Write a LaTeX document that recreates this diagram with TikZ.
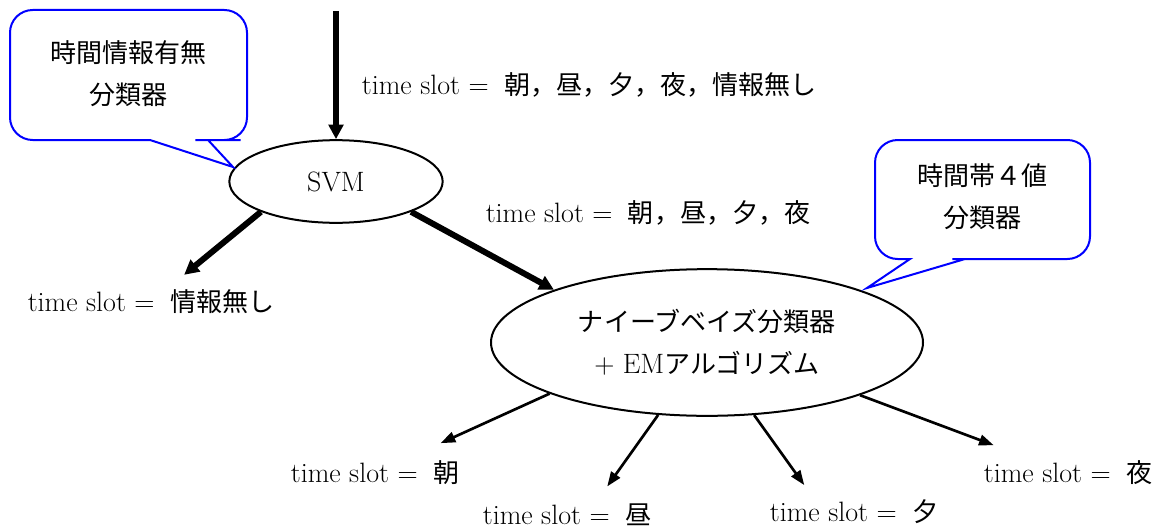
\documentclass[tikz,border=0pt]{standalone}
\usepackage{fontspec}
\newfontfamily\jp[Scale=0.93]{Noto Sans CJK JP}
\newcommand\tslot{time slot =\hspace{0.55em}}
\usetikzlibrary{arrows.meta,shapes.geometric}

\begin{document}
\begin{tikzpicture}[x=0.75pt,y=-0.75pt,
 every node/.style={font=\fontsize{21}{31.5}\selectfont},
 oval/.style={draw,ellipse,line width=1.5pt,align=center,inner sep=0pt},
 lbl/.style={inner sep=2pt},
 note/.style={align=center,font=\fontsize{21}{31.5}\selectfont\jp},
 bubble/.style={draw=blue,line width=1.5pt},
 fat/.style={-{Triangle[length=11pt,width=11pt]},line width=4.5pt},
 arr/.style={-{Triangle[length=11pt,width=8pt]},line width=2pt}]
\useasboundingbox (0,0) rectangle (1163,528);
% classifiers
\node[oval,minimum width=160pt,minimum height=62pt] (svm) at (336,181.5) {SVM};
\node[oval,minimum width=324pt,minimum height=110pt] (nb) at (707,342.5) {{\jp ナイーブベイズ分類器}\\+ EM{\jp アルゴリズム}};
% callouts
\draw[bubble] (128,10) [rounded corners=17pt] -- (247,10) -- (247,140) -- (218,140) [sharp corners] -- (208,140) -- (233,167) -- (150,140) -- (140,140) [rounded corners=17pt] -- (10,140) -- (10,10) -- cycle;
\node[note] (noteSvm) at (128.5,74) {時間情報有無\\分類器};
\draw[bubble] (982,140) [rounded corners=17pt] -- (1090,140) -- (1090,259) -- (975,259) [sharp corners] -- (965,259) -- (867,288) -- (910,259) -- (900,259) [rounded corners=17pt] -- (875,259) -- (875,140) -- cycle;
\node[note] (noteNb) at (982.5,196.5) {時間帯４値\\分類器};
% slot labels
\node[lbl,anchor=west] (slotAll) at (359,85) {\tslot{\jp 朝，昼，夕，夜，情報無し}};
\node[lbl] (slotDay) at (648,213) {\tslot{\jp 朝，昼，夕，夜}};
\node[lbl] (slotNone) at (151,302) {\tslot{\jp 情報無し}};
\node[lbl] (slotMorning) at (375,473) {\tslot{\jp 朝}};
\node[lbl] (slotNoon) at (567,515) {\tslot{\jp 昼}};
\node[lbl] (slotEvening) at (854,512) {\tslot{\jp 夕}};
\node[lbl] (slotNight) at (1068,473) {\tslot{\jp 夜}};
% arrows
\coordinate (entry) at (336,11);
\draw[fat] (entry) -- (svm);
\draw[fat,shorten >=14.5pt] (svm.202) -- (slotNone);
\draw[fat] (svm.338) -- (nb.161);
\draw[arr,shorten >=27pt] (nb.198) -- (slotMorning);
\draw[arr,shorten >=13.5pt] (nb.236) -- (slotNoon.25);
\draw[arr,shorten >=11pt] (nb.303) -- (slotEvening.160);
\draw[arr,shorten >=27.5pt] (nb.341) -- (slotNight);
\end{tikzpicture}
\end{document}
